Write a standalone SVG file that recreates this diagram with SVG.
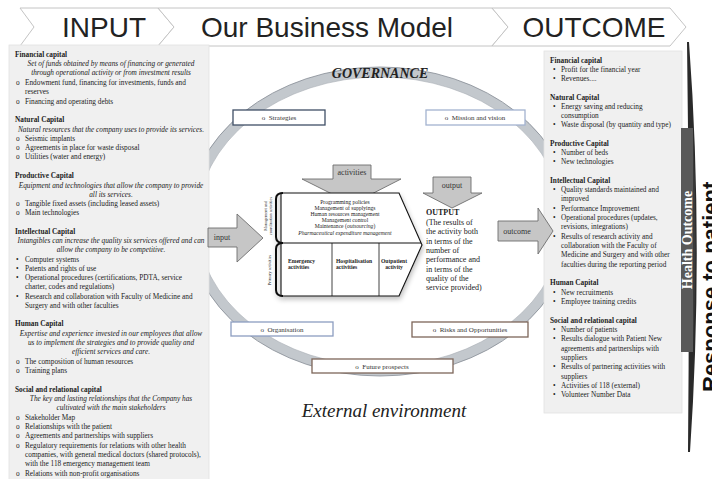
<svg xmlns="http://www.w3.org/2000/svg" width="712" height="479" viewBox="0 0 712 479">
<style>
.hd{font-family:"Liberation Sans",Arial,sans-serif;font-size:28px;fill:#222;text-anchor:middle}
.chev{fill:#fff;stroke:#c4c4c4;stroke-width:1}
.panel{fill:#f0f0f0;stroke:#e2e2e2;stroke-width:0.8}
.s{font-family:"Liberation Serif","Times New Roman",serif;font-size:7.3px;fill:#222}
.b{font-weight:bold}
.it{font-style:italic;text-anchor:middle}
.box{fill:#fff;stroke-width:1.3}
.bt{font-family:"Liberation Serif","Times New Roman",serif;font-size:7px;fill:#333;text-anchor:middle}
.arr{fill:#c6c6c6;stroke:#6e6e6e;stroke-width:0.9}
.at{font-family:"Liberation Serif","Times New Roman",serif;font-size:8px;fill:#333;text-anchor:middle}
.tiny{font-family:"Liberation Serif","Times New Roman",serif;font-size:5.6px;fill:#222;text-anchor:middle}
.cell{font-family:"Liberation Serif","Times New Roman",serif;font-size:5.6px;font-weight:bold;fill:#222}
.rot{font-family:"Liberation Serif","Times New Roman",serif;font-size:4.3px;fill:#222;text-anchor:middle}
.out{font-family:"Liberation Serif","Times New Roman",serif;font-size:8px;fill:#222}
</style>
<defs>
<filter id="sh" x="-10%" y="-10%" width="130%" height="140%">
<feGaussianBlur in="SourceAlpha" stdDeviation="2.5"/>
<feOffset dx="1" dy="3" result="o"/>
<feComponentTransfer><feFuncA type="linear" slope="0.25"/></feComponentTransfer>
<feMerge><feMergeNode/><feMergeNode in="SourceGraphic"/></feMerge>
</filter>
</defs>
<rect width="712" height="479" fill="#fff"/>

<g id="header">
<polygon class="chev" points="20,8 158,8 174,27 158,46 20,46 34,27"/>
<polygon class="chev" points="158,8 492,8 508,27 492,46 158,46 174,27"/>
<polygon class="chev" points="492,8 670,8 686,27 670,46 492,46 508,27"/>
<text class="hd" x="104" y="37">INPUT</text>
<text class="hd" x="327" y="37">Our Business Model</text>
<text class="hd" x="594" y="37">OUTCOME</text>
</g>

<g id="governance-ring">
<ellipse cx="380" cy="221.5" rx="188" ry="149.5" fill="none" stroke="#c3c8cd" stroke-width="10"/>
<ellipse cx="380" cy="221.5" rx="193" ry="154.5" fill="none" stroke="#858c94" stroke-width="0.8"/>
<ellipse cx="380" cy="221.5" rx="183" ry="144.5" fill="none" stroke="#a9afb5" stroke-width="0.6"/>
<text x="380" y="78" font-family="Liberation Serif,serif" font-size="14" font-weight="bold" font-style="italic" fill="#222" text-anchor="middle">GOVERNANCE</text>
</g>

<g id="input-panel">
<rect class="panel" x="9" y="45" width="200" height="440"/>
<text class="s b" x="15" y="57">Financial capital</text>
<text class="s it" x="111" y="66">Set of funds obtained by means of financing or generated</text>
<text class="s it" x="111" y="75">through operational activity or from investment results</text>
<text class="s" x="16" y="85">o</text><text class="s" x="25" y="85">Endowment fund, financing for investments, funds and</text>
<text class="s" x="25" y="94">reserves</text>
<text class="s" x="16" y="104">o</text><text class="s" x="25" y="104">Financing and operating debts</text>
<text class="s b" x="15" y="122">Natural Capital</text>
<text class="s it" x="111" y="132">Natural resources that the company uses to provide its services.</text>
<text class="s" x="16" y="141">o</text><text class="s" x="25" y="141">Seismic implants</text>
<text class="s" x="16" y="150">o</text><text class="s" x="25" y="150">Agreements in place for waste disposal</text>
<text class="s" x="16" y="159">o</text><text class="s" x="25" y="159">Utilities (water and energy)</text>
<text class="s b" x="15" y="178">Productive Capital</text>
<text class="s it" x="111" y="188">Equipment and technologies that allow the company to provide</text>
<text class="s it" x="111" y="197">all its services.</text>
<text class="s" x="16" y="206">o</text><text class="s" x="25" y="206">Tangible fixed assets (including leased assets)</text>
<text class="s" x="16" y="215">o</text><text class="s" x="25" y="215">Main technologies</text>
<text class="s b" x="15" y="234">Intellectual Capital</text>
<text class="s it" x="111" y="243">Intangibles can increase the quality six services offered and can</text>
<text class="s it" x="111" y="252">allow the company to be competitive.</text>
<text class="s" x="16" y="262">•</text><text class="s" x="25" y="262">Computer systems</text>
<text class="s" x="16" y="271">•</text><text class="s" x="25" y="271">Patents and rights of use</text>
<text class="s" x="16" y="280">•</text><text class="s" x="25" y="280">Operational procedures (certifications, PDTA, service</text>
<text class="s" x="25" y="289">charter, codes and regulations)</text>
<text class="s" x="16" y="299">•</text><text class="s" x="25" y="299">Research and collaboration with Faculty of Medicine and</text>
<text class="s" x="25" y="308">Surgery and with other faculties</text>
<text class="s b" x="15" y="326">Human Capital</text>
<text class="s it" x="111" y="336">Expertise and experience invested in our employees that allow</text>
<text class="s it" x="111" y="345">us to implement the strategies and to provide quality and</text>
<text class="s it" x="111" y="354">efficient services and care.</text>
<text class="s" x="16" y="364">o</text><text class="s" x="25" y="364">The composition of human resources</text>
<text class="s" x="16" y="373">o</text><text class="s" x="25" y="373">Training plans</text>
<text class="s b" x="15" y="392">Social and relational capital</text>
<text class="s it" x="111" y="401">The key and lasting relationships that the Company has</text>
<text class="s it" x="111" y="410">cultivated with the main stakeholders</text>
<text class="s" x="16" y="420">o</text><text class="s" x="25" y="420">Stakeholder Map</text>
<text class="s" x="16" y="429">o</text><text class="s" x="25" y="429">Relationships with the patient</text>
<text class="s" x="16" y="438">o</text><text class="s" x="25" y="438">Agreements and partnerships with suppliers</text>
<text class="s" x="16" y="448">o</text><text class="s" x="25" y="448">Regulatory requirements for relations with other health</text>
<text class="s" x="25" y="457">companies, with general medical doctors (shared protocols),</text>
<text class="s" x="25" y="466">with the 118 emergency management team</text>
<text class="s" x="16" y="476">o</text><text class="s" x="25" y="476">Relations with non-profit organisations</text>
</g>

<g id="outcome-panel">
<rect class="panel" x="544" y="51" width="138" height="362"/>
<text class="s b" x="550" y="63">Financial capital</text>
<text class="s" x="553" y="72">•</text><text class="s" x="561" y="72">Profit for the financial year</text>
<text class="s" x="553" y="81">•</text><text class="s" x="561" y="81">Revenues....</text>
<text class="s b" x="550" y="100">Natural Capital</text>
<text class="s" x="553" y="109">•</text><text class="s" x="561" y="109">Energy saving and reducing</text>
<text class="s" x="561" y="118">consumption</text>
<text class="s" x="553" y="127">•</text><text class="s" x="561" y="127">Waste disposal (by quantity and type)</text>
<text class="s b" x="550" y="146">Productive Capital</text>
<text class="s" x="553" y="155">•</text><text class="s" x="561" y="155">Number of beds</text>
<text class="s" x="553" y="164">•</text><text class="s" x="561" y="164">New technologies</text>
<text class="s b" x="550" y="183">Intellectual Capital</text>
<text class="s" x="553" y="192">•</text><text class="s" x="561" y="192">Quality standards maintained and</text>
<text class="s" x="561" y="201">improved</text>
<text class="s" x="553" y="211">•</text><text class="s" x="561" y="211">Performance Improvement</text>
<text class="s" x="553" y="220">•</text><text class="s" x="561" y="220">Operational procedures (updates,</text>
<text class="s" x="561" y="229">revisions, integrations)</text>
<text class="s" x="553" y="239">•</text><text class="s" x="561" y="239">Results of research activity and</text>
<text class="s" x="561" y="248">collaboration with the Faculty of</text>
<text class="s" x="561" y="257">Medicine and Surgery and with other</text>
<text class="s" x="561" y="267">faculties during the reporting period</text>
<text class="s b" x="550" y="285">Human Capital</text>
<text class="s" x="553" y="295">•</text><text class="s" x="561" y="295">New recruitments</text>
<text class="s" x="553" y="304">•</text><text class="s" x="561" y="304">Employee training credits</text>
<text class="s b" x="550" y="323">Social and relational capital</text>
<text class="s" x="553" y="332">•</text><text class="s" x="561" y="332">Number of patients</text>
<text class="s" x="553" y="341">•</text><text class="s" x="561" y="341">Results dialogue with Patient New</text>
<text class="s" x="561" y="351">agreements and partnerships with</text>
<text class="s" x="561" y="360">suppliers</text>
<text class="s" x="553" y="369">•</text><text class="s" x="561" y="369">Results of partnering activities with</text>
<text class="s" x="561" y="379">suppliers</text>
<text class="s" x="553" y="388">•</text><text class="s" x="561" y="388">Activities of 118 (external)</text>
<text class="s" x="553" y="397">•</text><text class="s" x="561" y="397">Volunteer Number Data</text>
</g>

<g id="health-outcome">
<path d="M689,42 Q704,245 690,452 L688,452 Q690,245 687,42 Z" fill="#2a2a2a"/>
<rect x="681" y="128" width="12" height="224" fill="#595959"/>
<path d="M693,128 Q698,240 693,352 Z" fill="#3a3a3a"/>
<text transform="translate(691.8,240) rotate(-90)" font-family="Liberation Serif,serif" font-size="14" font-weight="bold" fill="#fff" text-anchor="middle">Health Outcome</text>
<text transform="translate(718,392) rotate(-90)" font-family="Liberation Sans,Arial,sans-serif" font-size="22" font-weight="bold" fill="#111">Response to patient</text>
</g>

<g id="connectors">
<g id="activities-arrow">
<polygon class="arr" points="333,165 371,165 371,179 401,179 352,204 302,179 333,179"/>
<text class="at" x="352" y="175">activities</text>
</g>
<g id="output-arrow">
<polygon class="arr" points="433,177 471,177 471,193 482,193 452,208 423,193 433,193"/>
<text class="at" x="452" y="188">output</text>
</g>
<g id="input-arrow">
<polygon class="arr" points="208,228 237,228 237,214 263,238 237,262 237,247 208,247"/>
<text class="at" x="222" y="240">input</text>
</g>
<g id="outcome-arrow">
<polygon class="arr" points="498,221 538,221 538,208 553,231 538,254 538,241 498,241"/>
<text class="at" x="517" y="234">outcome</text>
</g>
</g>

<g id="value-chain" filter="url(#sh)">
<path d="M281,193 L399,193 L422,245 L399,296 L281,296 Z" fill="#fff" stroke="#111" stroke-width="1.1"/>
<line x1="278" y1="243" x2="421" y2="243" stroke="#111" stroke-width="1"/>
<line x1="332" y1="243" x2="332" y2="296" stroke="#111" stroke-width="0.8"/>
<line x1="379" y1="243" x2="379" y2="296" stroke="#111" stroke-width="0.8"/>
<path d="M283,193 Q276,193 276,199 L276,237 Q276,243 283,243" fill="none" stroke="#111" stroke-width="2"/>
<path d="M283,243 Q276,243 276,249 L276,290 Q276,296 283,296" fill="none" stroke="#111" stroke-width="2"/>
</g>
<g id="value-chain-text">
<text class="tiny" x="345" y="204">Programming policies</text>
<text class="tiny" x="345" y="210">Management of supplyings</text>
<text class="tiny" x="345" y="216">Human resources management</text>
<text class="tiny" x="345" y="222">Management control</text>
<text class="tiny" x="345" y="228">Maintenance (<tspan font-style="italic">outsourcing</tspan>)</text>
<text class="tiny" x="345" y="235" font-style="italic">Pharmaceutical expenditure management</text>
<text class="cell" x="288" y="263">Emergency</text>
<text class="cell" x="288" y="269">activities</text>
<text class="cell" x="336" y="263">Hospitalisation</text>
<text class="cell" x="336" y="269">activities</text>
<text class="cell" x="394" y="263" text-anchor="middle">Outpatient</text>
<text class="cell" x="394" y="269" text-anchor="middle">activity</text>
<text class="rot" transform="translate(267,216) rotate(-90)">Management and</text>
<text class="rot" transform="translate(272,216) rotate(-90)">coordination activities</text>
<text class="rot" transform="translate(271,270) rotate(-90)">Primary activities</text>
<text class="out b" x="426" y="215">OUTPUT</text>
<text class="out" x="426" y="225">(The results of</text>
<text class="out" x="426" y="234">the activity both</text>
<text class="out" x="426" y="244">in terms of the</text>
<text class="out" x="426" y="253">number of</text>
<text class="out" x="426" y="262">performance and</text>
<text class="out" x="426" y="272">in terms of the</text>
<text class="out" x="426" y="281">quality of the</text>
<text class="out" x="426" y="290">service provided)</text>
</g>

<g id="strategies"><rect class="box" x="233" y="110" width="92" height="15" stroke="#3f4f66"/><text class="bt" x="279" y="120">o&#160;&#160;Strategies</text></g>
<g id="mission"><rect class="box" x="426" y="110" width="99" height="15" stroke="#a3b3d0"/><text class="bt" x="475" y="120">o&#160;&#160;Mission and vision</text></g>
<g id="organisation"><rect class="box" x="231" y="322" width="102" height="14" stroke="#8c9dc0"/><text class="bt" x="282" y="331.5">o&#160;&#160;Organisation</text></g>
<g id="risks"><rect class="box" x="412" y="322" width="116" height="15" stroke="#7d6659"/><text class="bt" x="470" y="332">o&#160;&#160;Risks and Opportunities</text></g>
<g id="future"><rect class="box" x="312" y="359" width="141" height="14" stroke="#7d6659"/><text class="bt" x="382" y="368.5">o&#160;&#160;Future prospects</text></g>
<g id="external"><text x="384" y="417" font-family="Liberation Serif,serif" font-size="19" font-style="italic" fill="#222" text-anchor="middle">External environment</text></g>
</svg>
